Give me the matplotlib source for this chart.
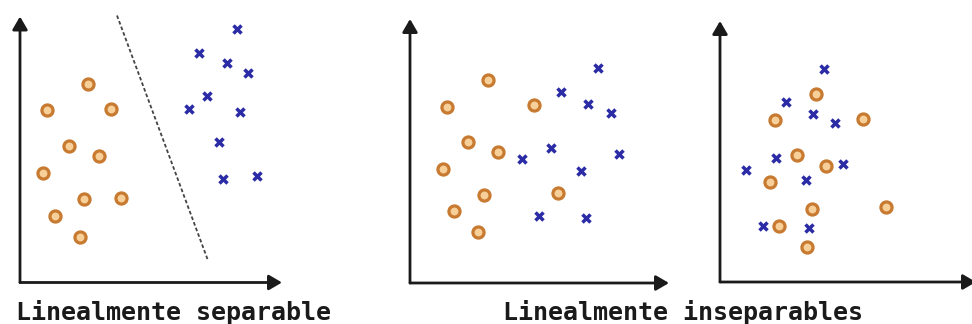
import matplotlib
matplotlib.use("Agg")
import matplotlib.pyplot as plt

# panel 1: linealmente separable
sep_circle_x = [6.8, 2.7, 9.1, 4.9, 7.9, 2.3, 6.4, 10.1, 3.5, 6.0]
sep_circle_y = [19.9, 17.3, 17.4, 13.7, 12.7, 11.0, 8.4, 8.5, 6.7, 4.6]
sep_cross_x = [21.7, 17.9, 20.7, 22.8, 18.7, 16.9, 22.0, 19.9, 20.3, 23.7]
sep_cross_y = [25.4, 23.0, 22.0, 21.0, 18.7, 17.4, 17.1, 14.1, 10.4, 10.7]
sep_line_x = [9.7, 18.8]
sep_line_y = [26.7, 2.2]

# panel 2: inseparable (mostly split)
ins1_circle_x = [7.8, 3.7, 12.4, 5.8, 8.8, 3.3, 7.4, 14.8, 4.4, 6.8]
ins1_circle_y = [20.3, 17.6, 17.8, 14.1, 13.1, 11.4, 8.8, 9.0, 7.2, 5.1]
ins1_cross_x = [18.8, 15.1, 17.8, 20.1, 14.1, 11.2, 20.9, 17.1, 12.9, 17.6]
ins1_cross_y = [21.5, 19.1, 17.9, 17.0, 13.5, 12.4, 12.9, 11.2, 6.7, 6.5]

# panel 3: inseparable (mixed)
ins2_circle_x = [9.6, 5.5, 14.3, 7.7, 10.6, 5.0, 9.2, 16.6, 5.9, 8.7]
ins2_circle_y = [18.8, 16.2, 16.3, 12.7, 11.6, 10.0, 7.3, 7.5, 5.6, 3.5]
ins2_cross_x = [10.4, 6.6, 9.3, 11.5, 5.6, 2.6, 8.6, 12.3, 4.3, 8.9]
ins2_cross_y = [21.3, 18.0, 16.8, 15.9, 12.4, 11.2, 10.2, 11.8, 5.6, 5.4]

labels = ["Linealmente separable", "Linealmente inseparables"]

W, H = 972, 324
fig = plt.figure(figsize=(W / 100, H / 100), dpi=100)


def panel(ox, oy, xlen, ylen, cx, cy, xx, xy):
    # axes placed in pixel units, 10 px per data unit
    ax = fig.add_axes([ox / W, (H - oy) / H, xlen / W, ylen / H])
    ax.set_xlim(0, xlen / 10)
    ax.set_ylim(0, ylen / 10)
    ax.axis("off")
    arrow = dict(arrowstyle="-|>,head_length=0.6,head_width=0.35",
                 lw=2.0, color="#1a1a1a", shrinkA=0, shrinkB=0,
                 mutation_scale=13)
    ax.annotate("", xy=(xlen / 10, 0), xytext=(0, 0), arrowprops=arrow,
                annotation_clip=False)
    ax.annotate("", xy=(0, ylen / 10), xytext=(0, 0), arrowprops=arrow,
                annotation_clip=False)
    ax.plot(cx, cy, "o", ms=8, mfc="#f7cf98", mec="#c77a30", mew=2.3,
            ls="none", clip_on=False)
    ax.plot(xx, xy, "x", ms=6, mec="#2b2ba6", mew=2.5, ls="none",
            clip_on=False)
    return ax


ax1 = panel(20, 282.5, 262, 266, sep_circle_x, sep_circle_y,
            sep_cross_x, sep_cross_y)
ax1.plot(sep_line_x, sep_line_y, color="#444444", lw=1.3,
         ls=(0, (2, 1.3)), clip_on=False)

panel(410, 283, 259, 264, ins1_circle_x, ins1_circle_y,
      ins1_cross_x, ins1_cross_y)
panel(720, 282, 256, 261, ins2_circle_x, ins2_circle_y,
      ins2_cross_x, ins2_cross_y)

fig.text(174 / W, (H - 320) / H, labels[0], ha="center", va="baseline",
         family="DejaVu Sans Mono", weight="bold", fontsize=18,
         color="#1a1a1a")
fig.text(683 / W, (H - 320) / H, labels[1], ha="center", va="baseline",
         family="DejaVu Sans Mono", weight="bold", fontsize=18,
         color="#1a1a1a")

fig.savefig("out.png", dpi=100, facecolor="white")
